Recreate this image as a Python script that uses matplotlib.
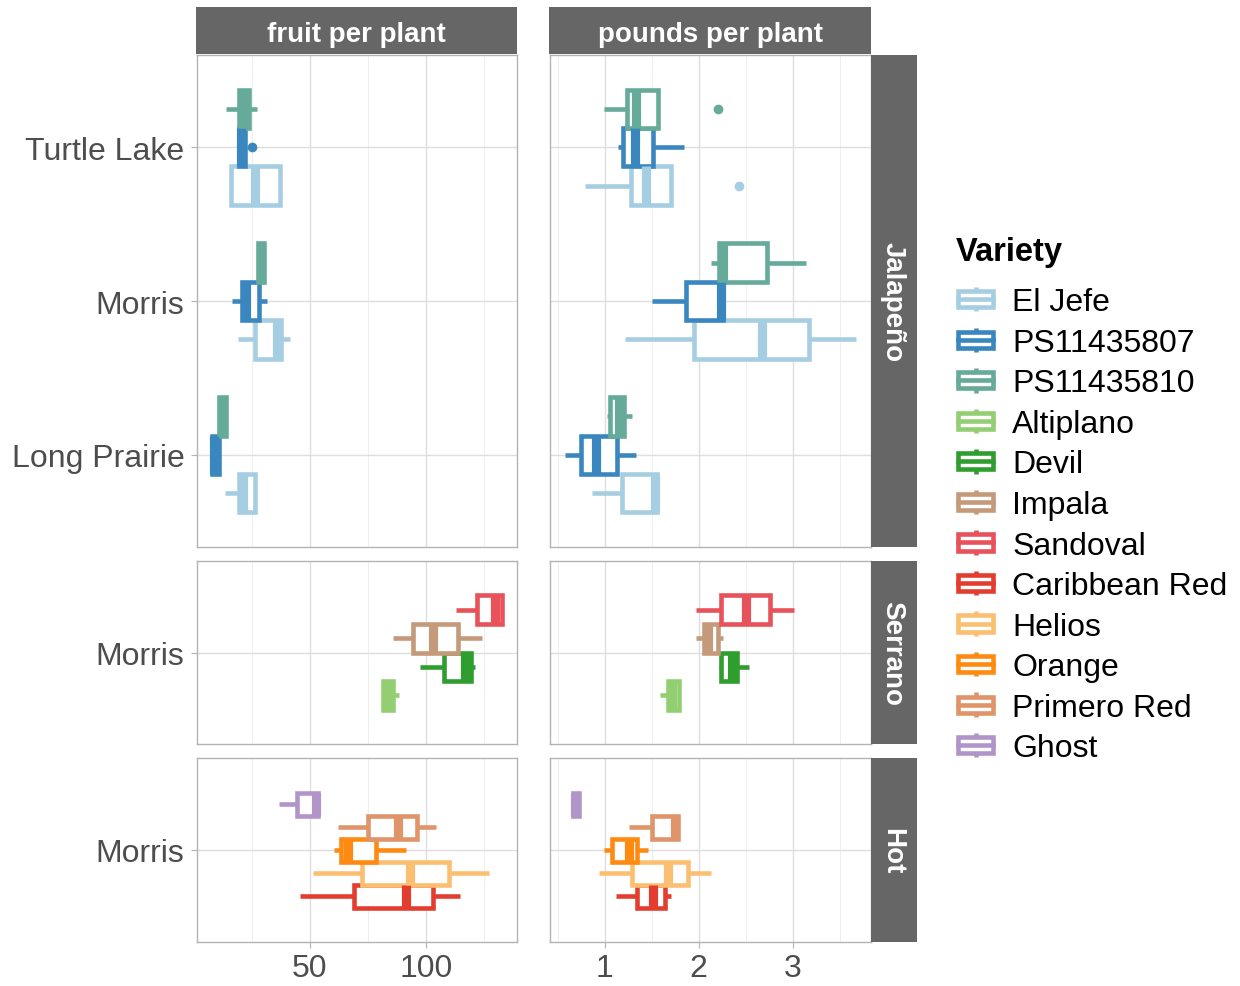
import matplotlib.pyplot as plt
from matplotlib.patches import Rectangle
from matplotlib.lines import Line2D
from matplotlib.legend_handler import HandlerBase

plt.rcParams['font.family'] = ['Liberation Sans', 'DejaVu Sans']

# Varieties and colours (legend order)
varieties = ['El Jefe', 'PS11435807', 'PS11435810', 'Altiplano', 'Devil', 'Impala',
             'Sandoval', 'Caribbean Red', 'Helios', 'Orange', 'Primero Red', 'Ghost']
colors = ['#A6CEE3', '#3A87C0', '#66AA99', '#93CF72', '#2F9E2F', '#C49A7A',
          '#E8525A', '#E23D2E', '#FCBF72', '#FF8A12', '#DF9469', '#B194C8']

measures = ['fruit per plant', 'pounds per plant']
types = ['Jalapeño', 'Serrano', 'Hot']

# locations per pepper type (bottom to top)
jal_locations = ['Long Prairie', 'Morris', 'Turtle Lake']
ser_locations = ['Morris']
hot_locations = ['Morris']

jal_varieties = ['El Jefe', 'PS11435807', 'PS11435810']
ser_varieties = ['Altiplano', 'Devil', 'Impala', 'Sandoval']
hot_varieties = ['Caribbean Red', 'Helios', 'Orange', 'Primero Red', 'Ghost']

# [whisker low, q1, median, q3, whisker high], indexed [location][variety]
jal_fruit = [
    [[13.4, 19.4, 21.5, 26.3, 26.3], [7.8, 7.8, 9.0, 10.8, 10.8], [11.2, 11.2, 12.5, 13.8, 13.8]],
    [[19.0, 26.3, 35.8, 37.5, 41.4], [16.4, 21.1, 22.8, 28.4, 31.5], [27.6, 27.6, 29.0, 30.2, 30.2]],
    [[16.0, 16.0, 26.3, 37.0, 37.0], [19.4, 19.4, 20.5, 22.0, 22.0], [13.8, 19.4, 21.5, 24.1, 27.2]],
]
jal_pounds = [
    [[0.86, 1.18, 1.53, 1.55, 1.55], [0.57, 0.74, 0.90, 1.13, 1.33], [1.02, 1.05, 1.15, 1.20, 1.29]],
    [[1.21, 1.95, 2.67, 3.18, 3.68], [1.50, 1.86, 2.24, 2.26, 2.26], [2.13, 2.22, 2.26, 2.73, 3.14]],
    [[0.79, 1.28, 1.44, 1.70, 1.70], [1.14, 1.19, 1.32, 1.51, 1.84], [0.99, 1.24, 1.33, 1.57, 1.57]],
]
ser_fruit = [
    [[81.5, 81.5, 83.5, 85.8, 88.4], [97.4, 107.8, 116.8, 119.4, 121.0],
     [85.8, 94.4, 103.0, 113.8, 124.0], [113.0, 122.0, 129.7, 132.8, 132.8]],
]
ser_pounds = [
    [[1.59, 1.67, 1.71, 1.79, 1.79], [2.22, 2.24, 2.35, 2.41, 2.53],
     [1.97, 2.06, 2.10, 2.21, 2.26], [1.97, 2.24, 2.50, 2.76, 3.02]],
]
hot_fruit = [
    [[46.0, 69.0, 91.4, 103.0, 114.7], [51.3, 72.4, 93.0, 110.0, 127.0],
     [60.3, 63.4, 66.4, 78.4, 91.4], [62.0, 75.0, 88.0, 96.0, 104.3],
     [36.6, 44.4, 52.5, 53.4, 53.4]],
]
hot_pounds = [
    [[1.12, 1.34, 1.51, 1.64, 1.70], [0.94, 1.29, 1.67, 1.89, 2.13],
     [0.99, 1.08, 1.26, 1.34, 1.46], [1.26, 1.50, 1.75, 1.78, 1.78],
     [0.655, 0.655, 0.68, 0.725, 0.725]],
]

# outlying points: (type, location, variety) -> values
fruit_outliers = {('Jalapeño', 'Turtle Lake', 'PS11435807'): [25.0]}
pounds_outliers = {('Jalapeño', 'Turtle Lake', 'PS11435810'): [2.21],
                   ('Jalapeño', 'Turtle Lake', 'El Jefe'): [2.43]}

rows = {
    'Jalapeño': (jal_locations, jal_varieties, jal_fruit, jal_pounds),
    'Serrano': (ser_locations, ser_varieties, ser_fruit, ser_pounds),
    'Hot': (hot_locations, hot_varieties, hot_fruit, hot_pounds),
}

W, H = 1240, 987
fig = plt.figure(figsize=(W / 100, H / 100), dpi=100)


def px_axes(x0, y0, x1, y1):
    return fig.add_axes([x0 / W, 1 - y1 / H, (x1 - x0) / W, (y1 - y0) / H])


col_px = [(197, 517), (550, 871)]
row_px = [(56, 548), (562, 745), (759, 943)]
strip_grey = '#666666'
tick_col = '#4D4D4D'
lw_box = 3.3


def data_limits(k):
    vals = []
    for t in types:
        d = rows[t][2 + k]
        for loc in d:
            for s in loc:
                vals += s
    outl = fruit_outliers if k == 0 else pounds_outliers
    for v in outl.values():
        vals += v
    lo, hi = min(vals), max(vals)
    pad = 0.05 * (hi - lo)
    return lo - pad, hi + pad


xlims = [data_limits(0), data_limits(1)]
major_ticks = [[50, 100], [1, 2, 3]]
minor_ticks = [[25, 75, 125], [0.5, 1.5, 2.5, 3.5]]

for r, t in enumerate(types):
    locs, vars_, fruit, pounds = rows[t]
    n = len(vars_)
    w = 0.75 / n
    for k, data in enumerate([fruit, pounds]):
        ax = px_axes(col_px[k][0], row_px[r][0], col_px[k][1], row_px[r][1])
        outl = fruit_outliers if k == 0 else pounds_outliers
        for i, loc in enumerate(locs):
            for j, v in enumerate(vars_):
                s = data[i][j]
                c = colors[varieties.index(v)]
                st = dict(whislo=s[0], q1=s[1], med=s[2], q3=s[3], whishi=s[4],
                          fliers=outl.get((t, loc, v), []))
                pos = i + 1 + (j - (n - 1) / 2) * w
                ax.bxp([st], positions=[pos], widths=[w], orientation='horizontal',
                       patch_artist=True, showcaps=False, manage_ticks=False,
                       boxprops=dict(facecolor='white', edgecolor=c, linewidth=lw_box,
                                     joinstyle='miter'),
                       whiskerprops=dict(color=c, linewidth=lw_box, solid_capstyle='butt'),
                       medianprops=dict(color=c, linewidth=lw_box * 2, solid_capstyle='butt'),
                       flierprops=dict(marker='o', markerfacecolor=c, markeredgewidth=0,
                                       markersize=7))
        ax.set_xlim(*xlims[k])
        ax.set_ylim(0.4, len(locs) + 0.6)
        ax.set_xticks(major_ticks[k])
        ax.set_xticks(minor_ticks[k], minor=True)
        ax.set_yticks(range(1, len(locs) + 1))
        ax.grid(True, which='major', color='#DEDEDE', linewidth=1.0)
        ax.grid(True, which='minor', axis='x', color='#EDEDED', linewidth=0.6)
        ax.set_axisbelow(True)
        for sp in ax.spines.values():
            sp.set_color('#B3B3B3')
            sp.set_linewidth(1.0)
        ax.tick_params(which='both', length=0)
        if k == 0:
            ax.set_yticklabels(locs)
            ax.tick_params(axis='y', length=4, color='#B3B3B3', width=0.8, pad=5,
                           labelsize=23, labelcolor=tick_col)
        else:
            ax.set_yticklabels([])
        if r == len(types) - 1:
            ax.tick_params(axis='x', which='major', length=4, color='#B3B3B3', width=0.8,
                           pad=4, labelsize=23, labelcolor=tick_col)
        else:
            ax.set_xticklabels([])

    # right strip
    sax = px_axes(871, row_px[r][0], 917, row_px[r][1])
    sax.set_facecolor(strip_grey)
    sax.set_xticks([])
    sax.set_yticks([])
    for sp in sax.spines.values():
        sp.set_visible(False)
    sax.text(0.47, 0.5, t, rotation=-90, ha='center', va='center', color='white',
             fontsize=20, fontweight='bold', transform=sax.transAxes)

# top strips
for k, m in enumerate(measures):
    sax = px_axes(col_px[k][0] - 1, 8, col_px[k][1], 55)
    sax.set_facecolor(strip_grey)
    sax.set_xticks([])
    sax.set_yticks([])
    for sp in sax.spines.values():
        sp.set_visible(False)
    sax.text(0.5, 0.42, m, ha='center', va='center', color='white',
             fontsize=20, fontweight='bold', transform=sax.transAxes)


class BoxKey(HandlerBase):
    def create_artists(self, legend, orig_handle, xdescent, ydescent, width, height,
                       fontsize, trans):
        c = orig_handle.get_edgecolor()
        x0, y0 = -xdescent, -ydescent
        rect = Rectangle((x0, y0 + 0.17 * height), width, 0.66 * height, facecolor='white',
                         edgecolor=c, linewidth=3.3, joinstyle='miter', transform=trans)
        med = Line2D([x0, x0 + width], [y0 + 0.5 * height] * 2, color=c, linewidth=3.3,
                     transform=trans)
        top = Line2D([x0 + width / 2] * 2, [y0 + 0.83 * height, y0 + height], color=c,
                     linewidth=3.3, solid_capstyle='butt', transform=trans)
        bot = Line2D([x0 + width / 2] * 2, [y0, y0 + 0.17 * height], color=c,
                     linewidth=3.3, solid_capstyle='butt', transform=trans)
        return [rect, med, top, bot]


fig.text(956 / W, 1 - 253 / H, 'Variety', ha='left', va='center',
         fontsize=23.5, fontweight='bold', color='black')
handles = [Rectangle((0, 0), 1, 1, facecolor='white', edgecolor=c) for c in colors]
leg = fig.legend(handles, varieties, handler_map={Rectangle: BoxKey()},
                 loc='upper left', bbox_to_anchor=(958 / W, 1 - 288 / H),
                 frameon=False, fontsize=23,
                 handlelength=1.1, handleheight=0.8, handletextpad=0.6,
                 labelspacing=0.32, borderpad=0, borderaxespad=0)

fig.savefig('out.png', dpi=100)
